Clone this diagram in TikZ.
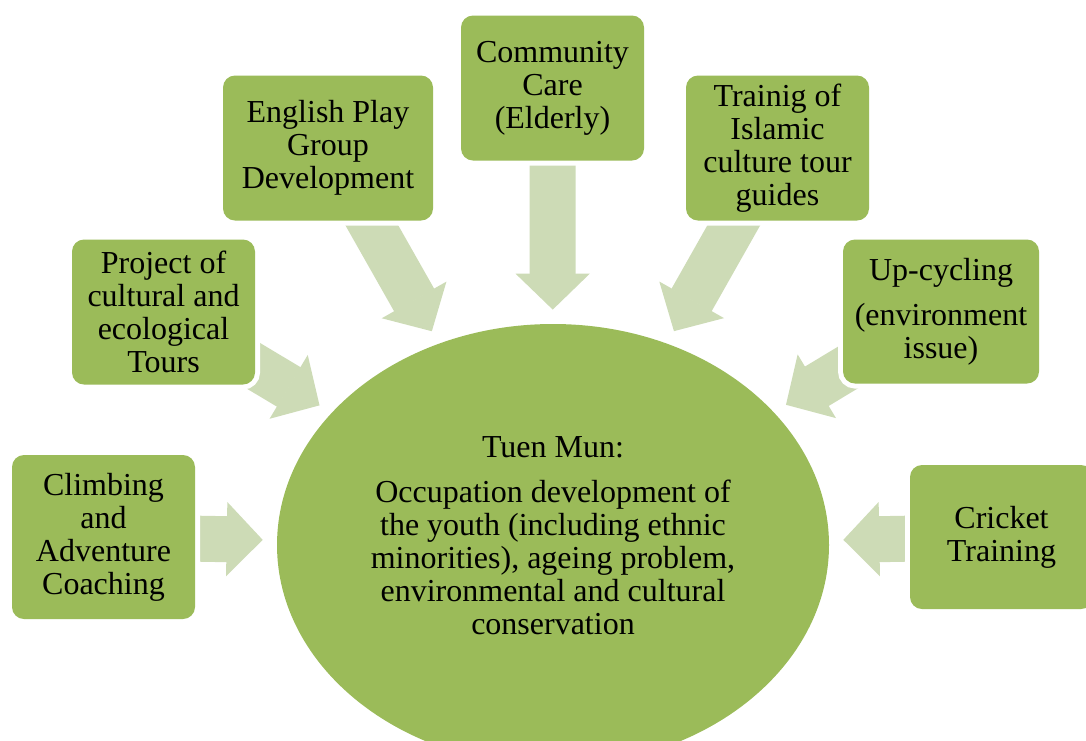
\documentclass[tikz,border=0pt]{standalone}
\usepackage{fontspec}
\setmainfont{Liberation Serif}
\usepackage{tikz}
\usetikzlibrary{arrows.meta, shapes.geometric, backgrounds}
\definecolor{boxgreen}{RGB}{155,187,89}
\definecolor{arrowgreen}{RGB}{205,219,182}

\begin{document}
\begin{tikzpicture}[x=0.5pt, y=-0.5pt,
			box/.style={rectangle, rounded corners=6pt, fill=boxgreen, preaction={draw=white, line width=5pt}, minimum width=91.5pt, minimum height=72.5pt, inner sep=0pt, align=center, font=\fontsize{16}{16.5}\selectfont},
			flow/.style={draw=arrowgreen, line width=23pt, line cap=butt, -{Triangle[width=37pt, length=18pt, line width=1pt]}, shorten >=7pt}]
			\useasboundingbox (0,0) rectangle (1086,740);
			\clip (0,0) rectangle (1086,740);
			\node at (553,545) (tm) [ellipse, fill=boxgreen, minimum width=276pt, minimum height=221pt, inner sep=0pt] {};
			\node at (553,536) (tmtext) [align=center, font=\fontsize{16}{16.5}\selectfont] {Tuen Mun:\\[6pt] Occupation development of\\ the youth (including ethnic\\ minorities), ageing problem,\\ environmental and cultural\\ conservation};
			\node at (103.5,537) (climb) [box, minimum height=82pt] {Climbing\\ and\\ Adventure\\ Coaching};
			\node at (163.5,312) (proj) [box] {Project of\\ cultural and\\ ecological\\ Tours};
			\node at (328,148) (eng) [box, minimum width=105pt] {English Play\\ Group\\ Development};
			\node at (552.5,88) (comm) [box] {Community\\ Care\\ (Elderly)};
			\node at (777.5,148) (train) [box] {Trainig of\\ Islamic\\ culture tour\\ guides};
			\node at (941,311.5) (up) [box, minimum width=98pt, minimum height=72pt] {Up-cycling\\[6pt] (environment\\ issue)};
			\node at (1001.5,537) (cricket) [box, minimum height=72pt] {Cricket\\ Training};
			\begin{pgfonlayer}{background}
			\draw[flow] (climb.center) -- (tm);
			\draw[flow] (proj.center) -- (tm);
			\draw[flow] (eng.center) -- (tm);
			\draw[flow] (comm.center) -- (tm);
			\draw[flow] (train.center) -- (tm);
			\draw[flow] (up.center) -- (tm);
			\draw[flow] (cricket.center) -- (tm);
			\end{pgfonlayer}
		\end{tikzpicture}
\end{document}
